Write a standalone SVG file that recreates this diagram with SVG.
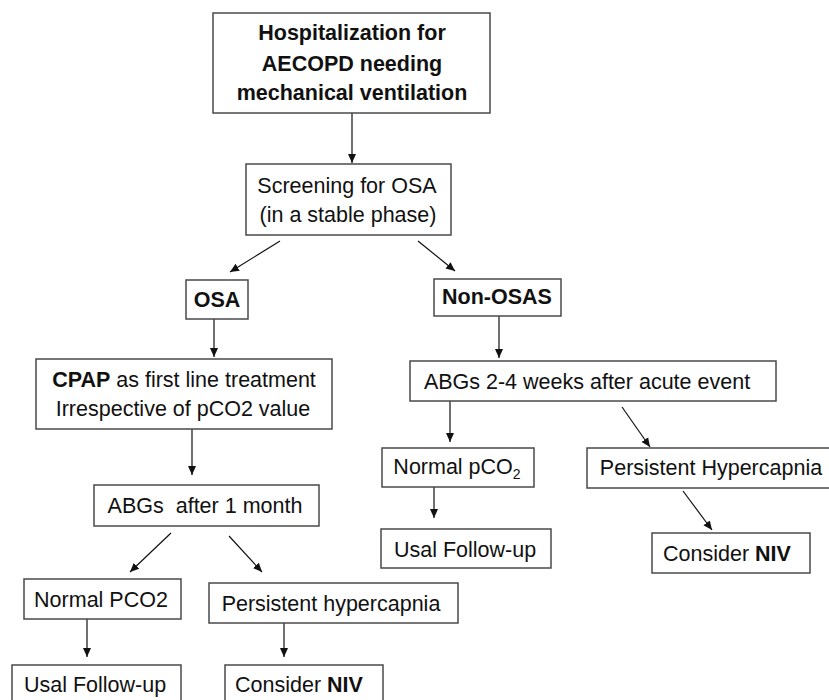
<svg xmlns="http://www.w3.org/2000/svg" width="829" height="700" viewBox="0 0 829 700">
<style>
.box{fill:#fff;stroke:#4a4a4a;stroke-width:1.5}
.t{font-family:"Liberation Sans",Arial,sans-serif;font-size:21.5px;fill:#111;text-anchor:middle}
.b{font-weight:bold}
.c{stroke:#111;stroke-width:1.2;fill:none;marker-end:url(#ah)}
</style>
<defs>
<marker id="ah" markerUnits="userSpaceOnUse" markerWidth="10" markerHeight="10" viewBox="0 0 10 10" refX="9" refY="5" orient="auto">
<path d="M0,1 L9,5 L0,9 Z" fill="#111"/>
</marker>
</defs>
<rect width="829" height="700" fill="#fff"/>
<g id="connectors">
<line class="c" x1="352" y1="113" x2="352" y2="163"/>
<line class="c" x1="280" y1="241" x2="230" y2="272"/>
<line class="c" x1="418" y1="241" x2="455" y2="271"/>
<line class="c" x1="214" y1="319" x2="214" y2="357"/>
<line class="c" x1="192" y1="429" x2="192" y2="475"/>
<line class="c" x1="171" y1="533" x2="130" y2="572"/>
<line class="c" x1="229" y1="536" x2="262" y2="572"/>
<line class="c" x1="87" y1="619" x2="87" y2="657"/>
<line class="c" x1="284" y1="623" x2="284" y2="657"/>
<line class="c" x1="499" y1="316" x2="499" y2="358"/>
<line class="c" x1="450" y1="401" x2="450" y2="442"/>
<line class="c" x1="622" y1="407" x2="650" y2="447"/>
<line class="c" x1="434" y1="487" x2="434" y2="518"/>
<line class="c" x1="683" y1="491" x2="712" y2="530"/>
</g>
<g id="n-hosp">
<rect class="box" x="213" y="13" width="277" height="100"/>
<text class="t b" x="352" y="40">Hospitalization for</text>
<text class="t b" x="352" y="71">AECOPD needing</text>
<text class="t b" x="352" y="100">mechanical ventilation</text>
</g>
<g id="n-screen">
<rect class="box" x="246" y="164" width="205" height="71"/>
<text class="t" x="347" y="193">Screening for OSA</text>
<text class="t" x="348" y="222">(in a stable phase)</text>
</g>
<g id="n-osa">
<rect class="box" x="186" y="280" width="62" height="39"/>
<text class="t b" x="217" y="307">OSA</text>
</g>
<g id="n-cpap">
<rect class="box" x="36" y="359" width="296" height="70"/>
<text class="t" x="184" y="387"><tspan class="b">CPAP</tspan> as first line treatment</text>
<text class="t" x="183" y="416">Irrespective of pCO2 value</text>
</g>
<g id="n-abg1">
<rect class="box" x="94" y="485" width="225" height="41"/>
<text class="t" x="205" y="513" xml:space="preserve">ABGs  after 1 month</text>
</g>
<g id="n-normal1">
<rect class="box" x="24" y="579" width="157" height="40"/>
<text class="t" x="101" y="607">Normal PCO2</text>
</g>
<g id="n-persist1">
<rect class="box" x="209" y="583" width="249" height="40"/>
<text class="t" x="331" y="611">Persistent hypercapnia</text>
</g>
<g id="n-follow1">
<rect class="box" x="12" y="665" width="169" height="50"/>
<text class="t" x="95" y="692">Usal Follow-up</text>
</g>
<g id="n-niv1">
<rect class="box" x="225" y="665" width="158" height="50"/>
<text class="t" x="299" y="692">Consider <tspan class="b">NIV</tspan></text>
</g>
<g id="n-nonosas">
<rect class="box" x="434" y="279" width="127" height="37"/>
<text class="t b" x="497" y="304">Non-OSAS</text>
</g>
<g id="n-abg2">
<rect class="box" x="410" y="361" width="366" height="40"/>
<text class="t" x="587" y="389">ABGs 2-4 weeks after acute event</text>
</g>
<g id="n-normal2">
<rect class="box" x="382" y="448" width="152" height="39"/>
<text class="t" x="457" y="474">Normal pCO<tspan font-size="14" dy="5">2</tspan></text>
</g>
<g id="n-persist2">
<rect class="box" x="587" y="448" width="250" height="40"/>
<text class="t" x="711" y="475">Persistent Hypercapnia</text>
</g>
<g id="n-follow2">
<rect class="box" x="381" y="529" width="170" height="39"/>
<text class="t" x="465" y="557">Usal Follow-up</text>
</g>
<g id="n-niv2">
<rect class="box" x="652" y="533" width="158" height="40"/>
<text class="t" x="727" y="561">Consider <tspan class="b">NIV</tspan></text>
</g>
</svg>
